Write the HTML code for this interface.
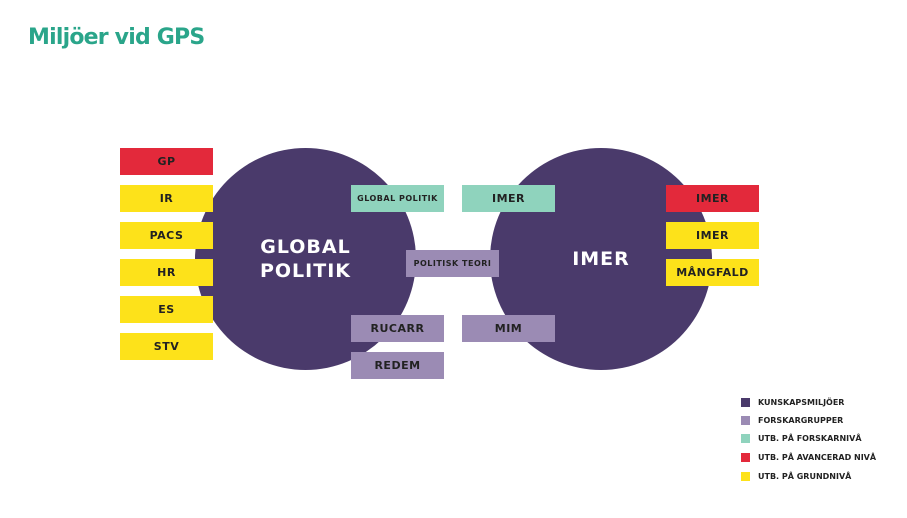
<!DOCTYPE html>
<html><head><meta charset="utf-8"><style>
body{margin:0;width:907px;height:518px;background:#fff;position:relative;overflow:hidden;font-family:"DejaVu Sans","Liberation Sans",sans-serif}
.t{position:absolute;left:28px;top:25px;font-size:22px;font-weight:bold;color:#2aa58a;letter-spacing:-0.8px}
.c{position:absolute;border-radius:50%;background:#4a3a6b;color:#fff;font-weight:bold;font-size:19px;display:flex;align-items:center;justify-content:center;text-align:center;line-height:24px;letter-spacing:1px}
.b{position:absolute;width:93px;height:27px;display:flex;align-items:center;justify-content:center;font-weight:bold;font-size:11px;color:#222;letter-spacing:0.5px}
.y{background:#fde21a}.r{background:#e3293b}.g{background:#8fd3bd}.p{background:#9b8bb4}
.l{position:absolute;left:741px;width:9px;height:9px}
.lt{position:absolute;left:758px;font-size:8px;font-weight:bold;color:#222;line-height:9px}
</style></head><body>
<div class="t">Miljöer vid GPS</div>
<div class="c" style="left:195px;top:148px;width:221px;height:222px">GLOBAL<br>POLITIK</div>
<div class="c" style="left:490px;top:148px;width:222px;height:222px">IMER</div>
<div class="b r" style="left:120px;top:148px">GP</div>
<div class="b y" style="left:120px;top:185px">IR</div>
<div class="b y" style="left:120px;top:222px">PACS</div>
<div class="b y" style="left:120px;top:259px">HR</div>
<div class="b y" style="left:120px;top:296px">ES</div>
<div class="b y" style="left:120px;top:333px">STV</div>
<div class="b g" style="left:351px;top:185px;font-size:8px">GLOBAL POLITIK</div>
<div class="b g" style="left:462px;top:185px">IMER</div>
<div class="b p" style="left:406px;top:250px;font-size:8px">POLITISK TEORI</div>
<div class="b p" style="left:351px;top:315px">RUCARR</div>
<div class="b p" style="left:462px;top:315px">MIM</div>
<div class="b p" style="left:351px;top:352px">REDEM</div>
<div class="b r" style="left:666px;top:185px">IMER</div>
<div class="b y" style="left:666px;top:222px">IMER</div>
<div class="b y" style="left:666px;top:259px">MÅNGFALD</div>
<div class="l" style="top:398px;background:#4a3a6b"></div><div class="lt" style="top:398px">KUNSKAPSMILJÖER</div>
<div class="l" style="top:416px;background:#9b8bb4"></div><div class="lt" style="top:416px">FORSKARGRUPPER</div>
<div class="l" style="top:434px;background:#8fd3bd"></div><div class="lt" style="top:434px">UTB. PÅ FORSKARNIVÅ</div>
<div class="l" style="top:453px;background:#e3293b"></div><div class="lt" style="top:453px">UTB. PÅ AVANCERAD NIVÅ</div>
<div class="l" style="top:472px;background:#fde21a"></div><div class="lt" style="top:472px">UTB. PÅ GRUNDNIVÅ</div>
</body></html>
